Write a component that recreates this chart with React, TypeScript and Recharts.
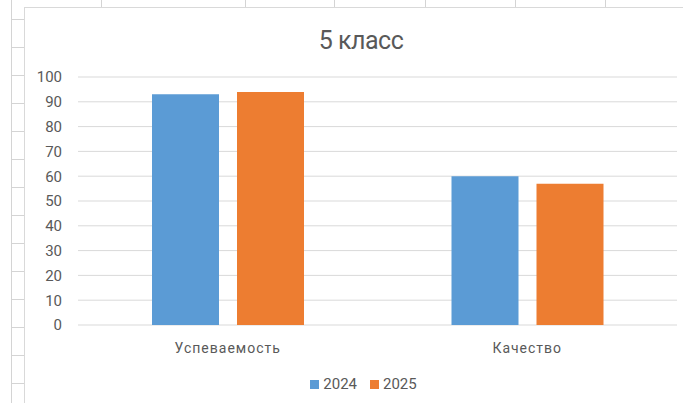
import { BarChart, Bar, XAxis, YAxis, CartesianGrid, Legend } from 'recharts'

const CATEGORIES = ['Успеваемость', 'Качество']
const VALUES_2024 = [93, 60]
const VALUES_2025 = [94, 57]
const Y_TICKS = [0, 10, 20, 30, 40, 50, 60, 70, 80, 90, 100]

const SERIES = [
  { key: '2024', color: '#5B9BD5' },
  { key: '2025', color: '#ED7D31' },
]

const TEXT = '#595959'
const FONT = 'Roboto, "Noto Sans", sans-serif'

// spreadsheet cell lines around the chart object
const SHEET_COLS = [101, 245, 334, 425, 515, 605]
const SHEET_ROWS = [19, 47, 75, 103, 131, 159, 187, 215, 243, 271, 299, 327, 355, 383]

function LegendContent() {
  return (
    <div style={{ display: 'flex', justifyContent: 'center', gap: 13, fontFamily: FONT, fontSize: 15, color: TEXT, height: 20, alignItems: 'center', paddingLeft: 50 }}>
      {SERIES.map(s => (
        <div key={s.key} style={{ display: 'flex', alignItems: 'center', gap: 4 }}>
          <span style={{ width: 9, height: 9, background: s.color, display: 'inline-block' }} />
          <span>{s.key}</span>
        </div>
      ))}
    </div>
  )
}

export default function App() {
  const data = CATEGORIES.map((name, i) => ({
    name,
    '2024': VALUES_2024[i],
    '2025': VALUES_2025[i],
  }))

  return (
    <div style={{ position: 'absolute', left: 0, top: 0, width: 683, height: 403, background: '#fff', overflow: 'hidden' }}>
      {/* sheet gridlines */}
      <div style={{ position: 'absolute', left: 11, top: 0, width: 1, height: 403, background: '#d4d4d4' }} />
      {SHEET_ROWS.map(y => (
        <div key={y} style={{ position: 'absolute', left: 11, top: y, width: 13, height: 1, background: '#d4d4d4' }} />
      ))}
      {SHEET_COLS.map(x => (
        <div key={x} style={{ position: 'absolute', left: x, top: 0, width: 1, height: 7, background: '#d4d4d4' }} />
      ))}
      {/* chart frame */}
      <div style={{ position: 'absolute', left: 24, top: 7, width: 659, height: 396, borderLeft: '1px solid #d9d9d9', borderTop: '1px solid #d9d9d9' }} />

      <div style={{ position: 'absolute', left: 0, top: 26, width: 722, textAlign: 'center', fontFamily: FONT, fontSize: 25, color: TEXT, letterSpacing: -0.5 }}>
        5 класс
      </div>

      <div style={{ position: 'absolute', left: 0, top: 0 }}>
        <BarChart
          width={683}
          height={403}
          data={data}
          margin={{ top: 77, right: 6, bottom: 9, left: 0 }}
          barSize={67}
          barGap={18}
        >
          <CartesianGrid vertical={false} stroke="#d9d9d9" strokeWidth={1} />
          <XAxis
            dataKey="name"
            axisLine={false}
            tickLine={false}
            tickSize={0}
            tickMargin={18}
            height={49}
            tick={{ fontSize: 14, fill: TEXT, fontFamily: FONT, letterSpacing: 1 }}
          />
          <YAxis
            domain={[0, 100]}
            ticks={Y_TICKS}
            axisLine={false}
            tickLine={false}
            tickSize={0}
            tickMargin={16}
            width={78}
            interval={0}
            tick={{ fontSize: 15, fill: TEXT, fontFamily: FONT }}
          />
          <Legend verticalAlign="bottom" height={20} content={<LegendContent />} />
          {SERIES.map(s => (
            <Bar key={s.key} dataKey={s.key} fill={s.color} isAnimationActive={false} />
          ))}
        </BarChart>
      </div>
    </div>
  )
}
